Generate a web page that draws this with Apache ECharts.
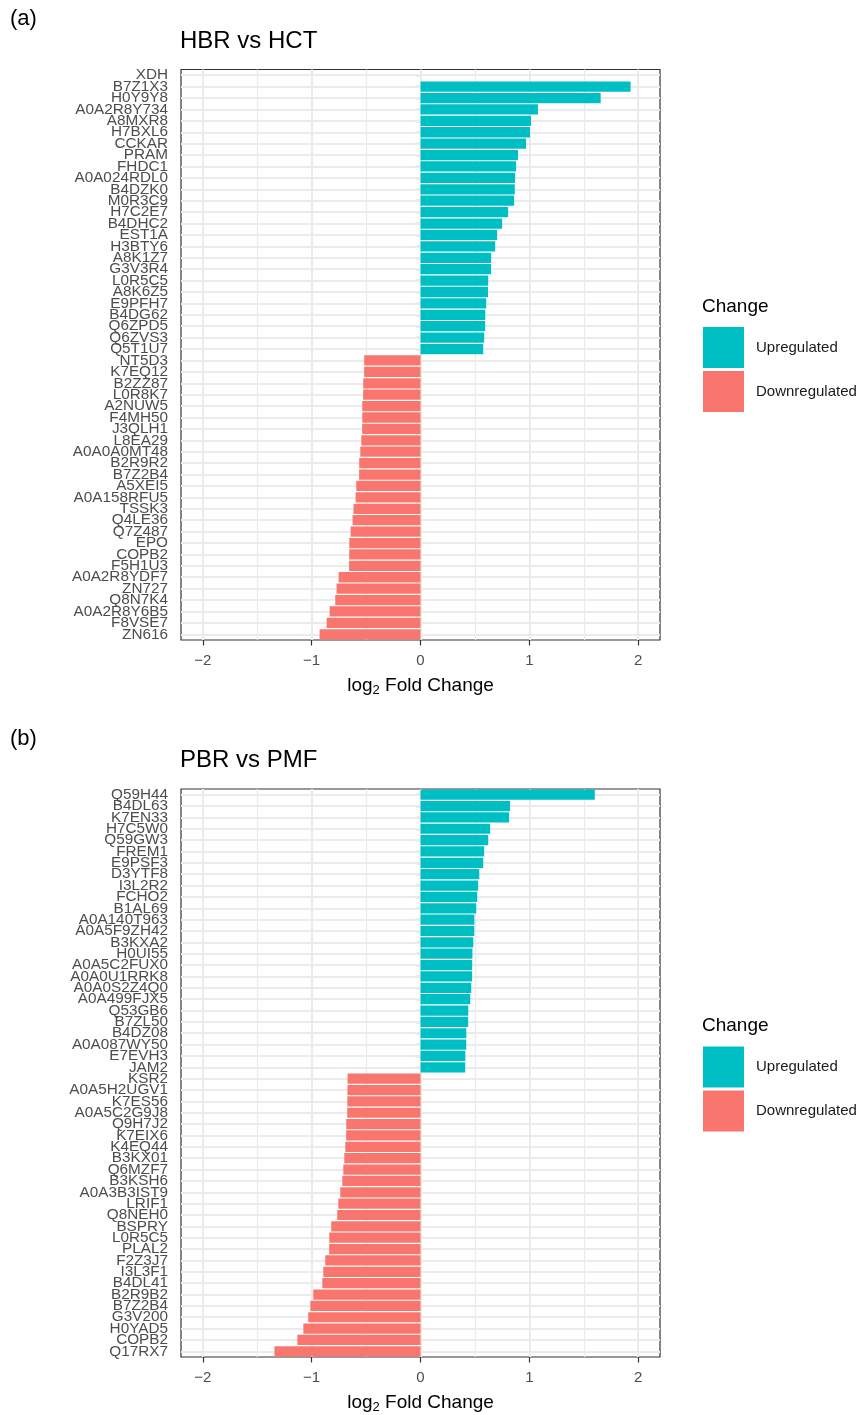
<!DOCTYPE html>
<html><head><meta charset="utf-8">
<script src="https://cdn.jsdelivr.net/npm/echarts@6/dist/echarts.min.js"></script>
<style>html,body{margin:0;padding:0;background:#fff}#c{width:863px;height:1415px}</style>
</head><body><div id="c"></div>
<script>
// Panel (a): HBR vs HCT
const namesA = ['XDH','B7Z1X3','H0Y9Y8','A0A2R8Y734','A8MXR8','H7BXL6','CCKAR','PRAM','FHDC1','A0A024RDL0','B4DZK0','M0R3C9','H7C2E7','B4DHC2','EST1A','H3BTY6','A8K1Z7','G3V3R4','L0R5C5','A8K6Z5','E9PFH7','B4DG62','Q6ZPD5','Q6ZVS3','Q5T1U7','NT5D3','K7EQ12','B2ZZ87','L0R8K7','A2NUW5','F4MH50','J3QLH1','L8EA29','A0A0A0MT48','B2R9R2','B7Z2B4','A5XEI5','A0A158RFU5','TSSK3','Q4LE36','Q7Z487','EPO','COPB2','F5H1U3','A0A2R8YDF7','ZN727','Q8N7K4','A0A2R8Y6B5','F8VSE7','ZN616'];
const valsA = [null,1.930,1.655,1.079,1.015,1.006,0.970,0.896,0.878,0.869,0.866,0.860,0.805,0.750,0.704,0.686,0.649,0.648,0.622,0.620,0.604,0.595,0.594,0.585,0.576,
  -0.517,-0.518,-0.526,-0.527,-0.535,-0.535,-0.536,-0.544,-0.553,-0.563,-0.564,-0.590,-0.596,-0.615,-0.624,-0.642,-0.654,-0.655,-0.656,-0.752,-0.771,-0.783,-0.835,-0.862,-0.927];
// Panel (b): PBR vs PMF
const namesB = ['Q59H44','B4DL63','K7EN33','H7C5W0','Q59GW3','FREM1','E9PSF3','D3YTF8','I3L2R2','FCHO2','B1AL69','A0A140T963','A0A5F9ZH42','B3KXA2','H0UI55','A0A5C2FUX0','A0A0U1RRK8','A0A0S2Z4Q0','A0A499FJX5','Q53GB6','B7ZL50','B4DZ08','A0A087WY50','E7EVH3','JAM2','KSR2','A0A5H2UGV1','K7ES56','A0A5C2G9J8','Q9H7J2','K7EIX6','K4EQ44','B3KX01','Q6MZF7','B3KSH6','A0A3B3IST9','LRIF1','Q8NEH0','BSPRY','L0R5C5','PLAL2','F2Z3J7','I3L3F1','B4DL41','B2R9B2','B7Z2B4','G3V200','H0YAD5','COPB2','Q17RX7'];
const valsB = [1.601,0.823,0.814,0.640,0.622,0.585,0.576,0.540,0.530,0.521,0.512,0.495,0.494,0.485,0.477,0.475,0.474,0.466,0.457,0.439,0.438,0.421,0.420,0.412,0.411,
  -0.670,-0.671,-0.672,-0.673,-0.682,-0.683,-0.691,-0.700,-0.709,-0.718,-0.737,-0.755,-0.765,-0.820,-0.838,-0.839,-0.875,-0.893,-0.902,-0.985,-1.012,-1.031,-1.076,-1.131,-1.342];
const panelTitles = ['HBR vs HCT','PBR vs PMF'];
const panelTags = ['(a)','(b)'];
const xTicks = [-2,-1,0,1,2];
const xMinor = [-1.5,-0.5,0.5,1.5];
const legendNames = ['Upregulated','Downregulated'];

const FONT = "'Liberation Sans', Arial, Helvetica, sans-serif";
const UP = '#00BFC4', DOWN = '#F8766D';
const panels = [{names:namesA, vals:valsA, top:69.5},{names:namesB, vals:valsB, top:789}];
const grid=[], xAxis=[], yAxis=[], series=[], title=[], legend=[];
panels.forEach((p,i)=>{
  const off = p.top - 69.5;
  grid.push({left:181, width:479, top:p.top, height:570.5, show:true, borderColor:'#333', borderWidth:1.2, backgroundColor:'transparent', containLabel:false});
  xAxis.push({type:'value', gridIndex:i, min:-2.2, max:2.2,
    splitLine:{show:false}, axisLine:{show:false},
    axisTick:{show:true, customValues:xTicks, length:5.5, lineStyle:{color:'#333', width:1.2}},
    axisLabel:{customValues:xTicks, margin:13, fontSize:15, color:'#4D4D4D', fontFamily:FONT,
      formatter: v => String(v).replace('-','\u2212')},
    name:'{m|log}{s|2}{m| Fold Change}', nameLocation:'middle', nameGap:35,
    nameTextStyle:{fontFamily:FONT, color:'#000', rich:{m:{fontSize:19, fontFamily:FONT, color:'#000'}, s:{fontSize:13, fontFamily:FONT, color:'#000', padding:[9,0,0,0]}}}
  });
  yAxis.push({type:'category', gridIndex:i, data:p.names, inverse:true,
    axisLine:{show:false}, splitLine:{show:false},
    axisTick:{show:true, alignWithLabel:true, length:5, lineStyle:{color:'#333', width:1.2}},
    axisLabel:{interval:0, fontSize:15.3, color:'#4D4D4D', margin:13, fontFamily:FONT}
  });
  // gridlines (under bars)
  const gl = [];
  xMinor.forEach(v=>gl.push({xAxis:v, lineStyle:{color:'#EBEBEB', width:1.2, type:'solid'}}));
  p.names.forEach(n=>gl.push({yAxis:n, lineStyle:{color:'#EBEBEB', width:2, type:'solid'}}));
  xTicks.forEach(v=>gl.push({xAxis:v, lineStyle:{color:'#EBEBEB', width:2, type:'solid'}}));
  series.push({type:'line', xAxisIndex:i, yAxisIndex:i, data:[], silent:true, z:1,
    markLine:{silent:true, symbol:['none','none'], z:1, label:{show:false}, animation:false, emphasis:{disabled:true}, data:gl}});
  series.push({type:'bar', name:legendNames[0], xAxisIndex:i, yAxisIndex:i, stack:'s'+i, barCategoryGap:'10%', z:3,
    itemStyle:{color:UP}, data:p.vals.map(v=> (v!=null && v>0) ? v : '-')});
  series.push({type:'bar', name:legendNames[1], xAxisIndex:i, yAxisIndex:i, stack:'s'+i, barCategoryGap:'10%', z:3,
    itemStyle:{color:DOWN}, data:p.vals.map(v=> (v!=null && v<0) ? v : '-')});
  title.push({text:panelTags[i], left:10, top:8+off, padding:0, textStyle:{fontSize:22, fontWeight:'normal', color:'#000', fontFamily:FONT}});
  title.push({text:panelTitles[i], left:180, top:29+off, padding:0, textStyle:{fontSize:24, fontWeight:'normal', color:'#000', fontFamily:FONT}});
  title.push({text:'Change', left:702, top:297+off, padding:0, textStyle:{fontSize:19, fontWeight:'normal', color:'#000', fontFamily:FONT}});
  legend.push({data:legendNames, orient:'vertical', left:703, top:327+off, padding:0, itemWidth:41, itemHeight:41, itemGap:3, icon:'rect',
    selectedMode:false, textStyle:{fontSize:15, color:'#1a1a1a', fontFamily:FONT, padding:[0,0,0,7]}});
});
const chart = echarts.init(document.getElementById('c'), null, {renderer:'canvas'});
chart.setOption({animation:false, backgroundColor:'#fff', grid, xAxis, yAxis, series, title, legend});
</script></body></html>
